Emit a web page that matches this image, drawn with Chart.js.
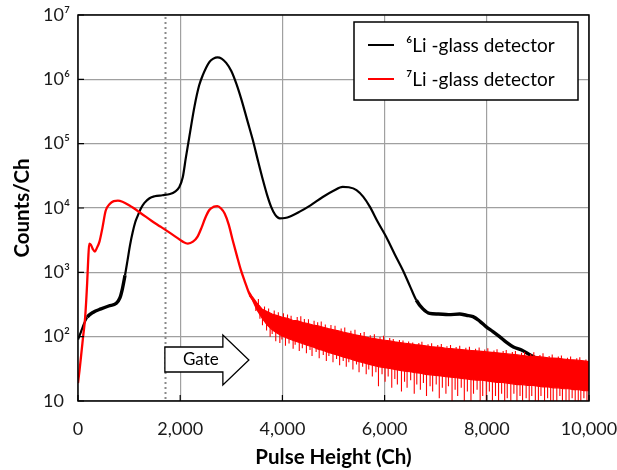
<!DOCTYPE html>
<html><head><meta charset="utf-8">
<script src="https://cdn.jsdelivr.net/npm/chart.js@4.4.0/dist/chart.umd.min.js"></script>
<style>html,body{margin:0;padding:0;background:#fff}#wrap{width:617px;height:470px;position:relative}</style>
</head><body><div id="wrap"><canvas id="c" width="617" height="470"></canvas></div>
<script>
// ---- data ----
const xTickValues = [0, 2000, 4000, 6000, 8000, 10000];
const xTickLabels = ['0', '2,000', '4,000', '6,000', '8,000', '10,000'];
const yTickValues = [10, 100, 1000, 10000, 100000, 1000000, 10000000];
const yTickLabels = ['10', '10²', '10³', '10⁴', '10⁵', '10⁶', '10⁷'];
const xTitle = 'Pulse Height (Ch)';
const yTitle = 'Counts/Ch';
const seriesLabels = ['⁶Li -glass detector', '⁷Li -glass detector'];
const gateChannel = 1700;
const gateLabel = 'Gate';

// 6Li-glass detector
const li6X = [0, 60, 120, 180, 300, 450, 600, 750, 820, 870, 920, 970, 1020, 1070, 1120, 1170, 1230, 1300, 1400, 1500, 1650, 1800, 1900, 1980, 2050, 2110, 2180, 2280, 2370, 2440, 2570, 2650, 2730, 2810, 2900, 3000, 3100, 3200, 3320, 3420, 3520, 3620, 3700, 3780, 3860, 3950, 4050, 4150, 4330, 4550, 4790, 5000, 5180, 5300, 5450, 5580, 5710, 5870, 6030, 6200, 6360, 6500, 6620, 6750, 6880, 7050, 7250, 7470, 7600, 7730, 7860, 7990, 8120, 8250, 8380, 8520, 8680, 8850, 9000, 9200];
const li6Y = [90, 120, 160, 200, 240, 270, 300, 330, 400, 560, 900, 1550, 2700, 4200, 6000, 7600, 9800, 12000, 14200, 15200, 15800, 16500, 18000, 21000, 30000, 60000, 130000, 380000, 800000, 1150000, 1850000, 2100000, 2200000, 2100000, 1800000, 1350000, 850000, 480000, 220000, 115000, 55000, 27000, 16000, 10400, 7800, 6900, 7000, 7400, 8700, 11000, 14800, 18500, 21300, 21000, 19000, 15000, 10500, 6000, 3570, 1900, 1070, 600, 370, 270, 230, 225, 220, 225, 215, 205, 175, 142, 120, 100, 82, 69, 62, 52, 45, 40];

// 7Li-glass detector (smooth part)
const li7X = [0, 30, 60, 100, 140, 180, 200, 220, 250, 290, 330, 370, 420, 480, 540, 620, 700, 780, 870, 1000, 1230, 1430, 1620, 1800, 1950, 2050, 2150, 2250, 2340, 2420, 2490, 2570, 2650, 2730, 2800, 2870, 2950, 3030, 3110, 3190, 3270, 3350, 3450, 3550];
const li7Y = [19, 30, 50, 100, 200, 700, 1600, 2800, 2700, 2300, 2100, 2400, 3000, 5000, 9000, 11500, 12800, 13000, 12500, 11000, 8300, 6400, 5100, 4100, 3400, 3000, 2800, 3000, 3600, 5000, 7000, 9300, 10400, 10700, 9800, 8200, 5500, 3100, 1800, 1070, 700, 470, 350, 290];

// 7Li-glass detector (noisy tail: dense band upper / lower edge)
const li7TailX = [3350, 3400, 3500, 3600, 3700, 3800, 3900, 4000, 4100, 4200, 4300, 4400, 4500, 4600, 4700, 4800, 4900, 5000, 5100, 5200, 5300, 5400, 5500, 5600, 5700, 5800, 5900, 6000, 6100, 6200, 6300, 6400, 6500, 6600, 6700, 6800, 6900, 7000, 7100, 7200, 7300, 7400, 7500, 7600, 7700, 7800, 7900, 8000, 8100, 8200, 8300, 8400, 8500, 8600, 8700, 8800, 8900, 9000, 9100, 9200, 9300, 9400, 9500, 9600, 9700, 9800, 9900, 10000];
const li7TailUpper = [500, 430, 335, 270, 245, 225, 212, 200, 192, 180, 176, 166, 160, 152, 147, 140, 133, 128, 123, 117, 113, 108, 104, 100, 96, 93, 90, 88, 86, 83, 81, 79, 77, 75, 74, 72, 70, 69, 68, 66, 65, 64, 63, 62, 61, 60, 59, 58, 57, 56, 55, 54, 53, 52, 51, 50, 49.5, 49, 48, 47, 46.5, 46, 45, 44, 43.5, 43, 42, 41];
const li7TailLower = [440, 390, 262, 195, 152, 128, 113, 102, 95, 88, 83, 78, 73, 69, 64, 61, 57, 54, 51, 48, 46, 43, 41, 39, 37, 35.5, 34, 33, 32, 31, 30, 29, 28.5, 27.5, 27, 26, 25.5, 25, 24.5, 24, 23.5, 23, 22.5, 22, 21.5, 21, 21, 20.5, 20, 19.5, 19.5, 19, 18.5, 18, 18, 17.5, 17.5, 17, 16.5, 16.5, 16, 16, 15.5, 15.5, 15, 15, 14.5, 14.5];
// downward spikes in the tail: [channel, from, to]
const li7DownSpikes = [[3480, 320, 250], [3560, 250, 190], [3610, 230, 150], [3690, 200, 125], [3760, 185, 100], [3800, 175, 110], [3870, 160, 85], [3950, 150, 80], [3990, 145, 90], [4060, 140, 72], [4130, 135, 78], [4210, 128, 65], [4250, 125, 75], [4330, 120, 60], [4390, 115, 66], [4470, 112, 55], [4540, 108, 62], [4580, 106, 50], [4660, 102, 58], [4720, 98, 46], [4800, 95, 52], [4860, 92, 42], [4910, 90, 50], [4990, 87, 40], [5060, 84, 45], [5120, 82, 36], [5190, 80, 42], [5250, 78, 34], [5300, 76, 40], [5380, 74, 31], [5450, 72, 37], [5500, 70, 28], [5570, 68, 34], [5640, 66, 26], [5690, 64, 31], [5760, 62, 24], [5830, 60, 28], [5880, 59, 17], [5950, 58, 26], [6010, 57, 20], [6070, 56, 24], [6140, 55, 16], [6200, 54, 22], [6250, 53, 18], [6330, 52, 14], [6390, 51, 20], [6440, 50, 16], [6510, 49, 21], [6580, 48, 13], [6630, 48, 18], [6700, 47, 15], [6760, 46, 19], [6820, 46, 12], [6890, 45, 17], [6940, 44, 14], [7010, 43, 18], [7070, 43, 11], [7130, 42, 16], [7200, 41, 13], [7250, 41, 17], [7320, 40, 10], [7380, 40, 15], [7430, 39, 12], [7500, 39, 16], [7560, 38, 10], [7620, 38, 14], [7690, 37, 9], [7740, 37, 13], [7810, 36, 15], [7870, 36, 9], [7920, 36, 12], [7990, 35, 10], [8050, 35, 14], [8110, 34, 9], [8170, 34, 12], [8230, 34, 10], [8290, 33, 13], [8350, 33, 9], [8400, 33, 11], [8470, 32, 9], [8530, 32, 13], [8590, 31, 10], [8650, 31, 12], [8700, 31, 9], [8770, 30, 11], [8830, 30, 9], [8880, 30, 12], [8950, 29, 10], [9010, 29, 9], [9060, 29, 12], [9130, 28, 9], [9190, 28, 11], [9250, 28, 9], [9300, 28, 10], [9370, 27, 9], [9430, 27, 12], [9480, 27, 9], [9550, 27, 10], [9610, 26, 9], [9670, 26, 11], [9730, 26, 9], [9790, 26, 10], [9840, 26, 9], [9900, 25, 11], [9960, 25, 9]];
// upward spikes in the tail: [channel, from, to]
const li7UpSpikes = [[3530, 300, 385], [3650, 230, 295], [3730, 200, 275], [3840, 170, 255], [3920, 155, 240], [4020, 145, 232], [4100, 140, 222], [4170, 132, 212], [4290, 122, 202], [4360, 118, 208], [4430, 114, 188], [4510, 110, 186], [4620, 104, 176], [4690, 100, 168], [4760, 97, 172], [4840, 93, 155], [4950, 89, 152], [5030, 86, 148], [5150, 82, 134], [5220, 79, 139], [5340, 75, 124], [5420, 73, 128], [5530, 69, 114], [5600, 67, 118], [5720, 64, 105], [5800, 62, 109], [5910, 59, 99], [5980, 58, 103], [6100, 56, 95], [6170, 55, 92], [6290, 52, 89], [6360, 51, 87], [6470, 49, 84], [6550, 48, 81], [6670, 47, 80], [6730, 46, 83], [6850, 45, 76], [6920, 44, 79], [7040, 43, 74], [7110, 42, 77], [7220, 41, 71], [7290, 40, 74], [7400, 40, 69], [7470, 39, 72], [7590, 38, 67], [7660, 37, 70], [7780, 37, 65], [7850, 36, 68], [7960, 35, 63], [8020, 35, 66], [8140, 34, 61], [8200, 34, 64], [8320, 33, 60], [8380, 33, 62], [8500, 32, 58], [8560, 31, 60], [8680, 31, 56], [8740, 31, 58], [8860, 30, 54], [8920, 30, 57], [9040, 29, 52], [9100, 29, 55], [9220, 28, 50], [9280, 28, 53], [9400, 27, 49], [9460, 27, 51], [9580, 27, 47], [9640, 26, 49], [9760, 26, 46], [9820, 26, 48], [9940, 25, 44]];

// ---- build ----
const RED = '#ff0000', BLACK = '#000000';
const FONT = 'Lato, "Open Sans", "DejaVu Sans", sans-serif';
const pts = (xs, ys) => xs.map((x, i) => ({x, y: ys[i]}));
const segs = list => { const out = []; list.forEach(([x, a, b]) => out.push({x, y: a}, {x, y: b}, {x, y: null})); return out; };
const blackNoisy = [[150, 900], [6550, 9300]];
const inNoisy = v => blackNoisy.some(([a, b]) => v >= a && v <= b);

const overlay = {
  id: 'overlay',
  beforeDatasetsDraw(chart) {
    const {ctx, chartArea: a, scales: {x}} = chart;
    const gx = Math.round(x.getPixelForValue(gateChannel)) + 0.5;
    ctx.save();
    ctx.strokeStyle = '#8a8a8a'; ctx.lineWidth = 2; ctx.setLineDash([2, 3]);
    ctx.beginPath(); ctx.moveTo(gx, a.top + 2); ctx.lineTo(gx, a.bottom); ctx.stroke();
    ctx.restore();
  },
  afterDatasetsDraw(chart) {
    const {ctx, chartArea: a, scales: {x, y}} = chart;
    ctx.save();
    // gate arrow
    const L = x.getPixelForValue(gateChannel), B = a.bottom;
    ctx.beginPath();
    ctx.moveTo(L, B - 54); ctx.lineTo(L + 58, B - 54); ctx.lineTo(L + 58, B - 66);
    ctx.lineTo(L + 84, B - 41); ctx.lineTo(L + 58, B - 16); ctx.lineTo(L + 58, B - 29);
    ctx.lineTo(L, B - 29); ctx.closePath();
    ctx.fillStyle = '#fff'; ctx.fill();
    ctx.strokeStyle = '#000'; ctx.lineWidth = 1.3; ctx.stroke();
    ctx.fillStyle = '#000'; ctx.font = '17px ' + FONT; ctx.textAlign = 'center'; ctx.textBaseline = 'middle';
    ctx.fillText(gateLabel, L + 36, B - 41);
    // axis box
    ctx.strokeStyle = '#000'; ctx.lineWidth = 1.5;
    ctx.strokeRect(a.left, a.top, a.right - a.left, a.bottom - a.top);
    // inward ticks
    ctx.lineWidth = 1.2;
    ctx.beginPath();
    xTickValues.forEach(v => { const px = x.getPixelForValue(v); ctx.moveTo(px, a.bottom); ctx.lineTo(px, a.bottom - 6); });
    yTickValues.forEach(v => { const py = y.getPixelForValue(v); ctx.moveTo(a.left, py); ctx.lineTo(a.left + 6, py); });
    ctx.stroke();
    // legend
    const lx = 354, ly = 22, lw = 224, lh = 78;
    ctx.fillStyle = '#fff'; ctx.fillRect(lx, ly, lw, lh);
    ctx.strokeStyle = '#000'; ctx.lineWidth = 1.5; ctx.strokeRect(lx, ly, lw, lh);
    const cols = [BLACK, RED], rows = [45, 79];
    ctx.font = '19px ' + FONT; ctx.textAlign = 'left'; ctx.textBaseline = 'middle';
    seriesLabels.forEach((t, i) => {
      ctx.strokeStyle = cols[i]; ctx.lineWidth = 2;
      ctx.beginPath(); ctx.moveTo(368, rows[i]); ctx.lineTo(394, rows[i]); ctx.stroke();
      ctx.fillStyle = '#000'; ctx.fillText(t, 406, rows[i] + 1);
    });
    ctx.restore();
  }
};

new Chart(document.getElementById('c'), {
  type: 'line',
  data: {
    datasets: [
      {label: seriesLabels[1], data: pts(li7X, li7Y), borderColor: RED, borderWidth: 2.3, pointRadius: 0, cubicInterpolationMode: 'monotone', order: 1},
      {label: 'tailUpper', data: pts(li7TailX, li7TailUpper), borderColor: RED, backgroundColor: RED, borderWidth: 1.2, pointRadius: 0, fill: '+1', order: 2},
      {label: 'tailLower', data: pts(li7TailX, li7TailLower), borderColor: RED, borderWidth: 1.2, pointRadius: 0, fill: false, order: 3},
      {label: 'tailDown', data: segs(li7DownSpikes), borderColor: RED, borderWidth: 1.1, pointRadius: 0, spanGaps: false, fill: false, order: 1},
      {label: 'tailUp', data: segs(li7UpSpikes), borderColor: RED, borderWidth: 1.1, pointRadius: 0, spanGaps: false, fill: false, order: 1},
      {label: seriesLabels[0], data: pts(li6X, li6Y), borderColor: BLACK, borderWidth: 2.2, pointRadius: 0, cubicInterpolationMode: 'monotone', order: 10,
       segment: {borderWidth: c => inNoisy(c.p0.parsed.x) ? 3.4 : 2.2}}
    ]
  },
  options: {
    responsive: false, animation: false, events: [],
    layout: {padding: {top: 15, right: 28, bottom: 0, left: 43}},
    plugins: {legend: {display: false}, tooltip: {enabled: false}},
    scales: {
      x: {
        type: 'linear', min: 0, max: 10000,
        afterBuildTicks: s => { s.ticks = xTickValues.map(v => ({value: v})); },
        afterFit: s => { s.height = 69; s.paddingLeft = 0; s.paddingRight = 0; },
        ticks: {callback: v => xTickLabels[xTickValues.indexOf(v)], font: {family: FONT, size: 18}, color: '#1a1a1a', padding: 17, maxRotation: 0, autoSkip: false},
        grid: {color: '#a0a0a0', lineWidth: 1.2, drawTicks: false},
        border: {display: false},
        title: {display: true, text: xTitle, font: {family: FONT, size: 20.5, weight: 'bold'}, color: '#000', padding: {top: 0, bottom: 0}}
      },
      y: {
        type: 'logarithmic', min: 10, max: 10000000,
        afterBuildTicks: s => { s.ticks = yTickValues.map(v => ({value: v})); },
        afterFit: s => { s.width = 35; s.paddingTop = 0; s.paddingBottom = 0; },
        ticks: {callback: v => yTickLabels[yTickValues.indexOf(v)], font: {family: FONT, size: 18}, color: '#1a1a1a', padding: 4, crossAlign: 'far', autoSkip: false},
        grid: {color: '#a0a0a0', lineWidth: 1.2, drawTicks: false},
        border: {display: false},
        title: {display: true, text: yTitle, font: {family: FONT, size: 20.5, weight: 'bold'}, color: '#000', padding: {top: -33, bottom: 0}}
      }
    }
  },
  plugins: [overlay]
});
</script></body></html>
